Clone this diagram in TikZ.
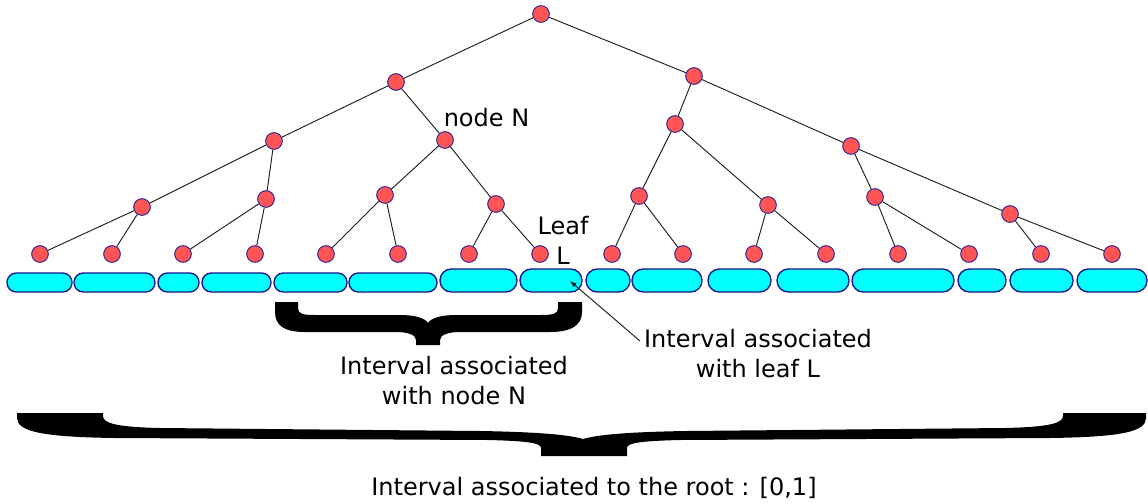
\documentclass[tikz,border=0pt]{standalone}
\usepackage{fontspec}
\setmainfont{DejaVu Sans}
\usepackage{tikz}
\usetikzlibrary{shapes.misc}

\begin{document}
\begin{tikzpicture}[x=0.75pt,y=0.75pt,yscale=-1,xscale=1,
	vtx/.style={circle,minimum size=12.5pt,inner sep=0pt,line width=0.7pt,
		fill={rgb,255:red,255;green,85;blue,85},draw={rgb,255:red,40;green,30;blue,150}},
	seg/.style={line width=1pt,fill={rgb,255:red,0;green,255;blue,255},
		draw={rgb,255:red,25;green,20;blue,140}},
	edge/.style={line width=0.7pt,draw={rgb,255:red,30;green,30;blue,30}},
	lbl/.style={inner sep=0pt,align=center,font=\fontsize{18}{22.5}\selectfont}]
\useasboundingbox (0,0) rectangle (1148,503);

%Shape: Intervals
\draw[seg,rounded corners=7pt] (7,273) rectangle (72,292);
\draw[seg,rounded corners=7pt] (74,273) rectangle (155,292);
\draw[seg,rounded corners=7pt] (158,273) rectangle (199,292);
\draw[seg,rounded corners=7pt] (202,273) rectangle (271,292);
\draw[seg,rounded corners=7pt] (274,273) rectangle (347,292);
\draw[seg,rounded corners=7pt] (349,273) rectangle (437,292);
\draw[seg,rounded corners=8.5pt] (440,269) rectangle (517,292);
\draw[seg,rounded corners=8.5pt] (520,269) rectangle (582,292);
\draw[seg,rounded corners=8.5pt] (586,269) rectangle (630,292);
\draw[seg,rounded corners=8.5pt] (632,269) rectangle (702,292);
\draw[seg,rounded corners=8.5pt] (708,269) rectangle (771,292);
\draw[seg,rounded corners=8.5pt] (777,269) rectangle (849,292);
\draw[seg,rounded corners=8.5pt] (852,269) rectangle (954,292);
\draw[seg,rounded corners=8.5pt] (958,269) rectangle (1006,292);
\draw[seg,rounded corners=8.5pt] (1010,269) rectangle (1073,292);
\draw[seg,rounded corners=8.5pt] (1077,269) rectangle (1147,292);

%Tree nodes
\node[vtx] (r) at (541,14) {};
\node[vtx] (a1) at (396,82) {};
\node[vtx] (a2) at (694,76) {};
\node[vtx] (b1) at (274,141) {};
\node[vtx] (b2) at (445,140) {};
\node[vtx] (b3) at (675,124) {};
\node[vtx] (b4) at (851,146) {};
\node[vtx] (c1) at (142,207) {};
\node[vtx] (c2) at (266,199) {};
\node[vtx] (c3) at (385,195) {};
\node[vtx] (c4) at (496,204) {};
\node[vtx] (c5) at (639,196) {};
\node[vtx] (c6) at (768,205) {};
\node[vtx] (c7) at (875,197) {};
\node[vtx] (c8) at (1010,214) {};
\node[vtx] (l1) at (40,254) {};
\node[vtx] (l2) at (112,254) {};
\node[vtx] (l3) at (183,254) {};
\node[vtx] (l4) at (255,254) {};
\node[vtx] (l5) at (326,254) {};
\node[vtx] (l6) at (398,254) {};
\node[vtx] (l7) at (469,254) {};
\node[vtx] (l8) at (540,254) {};
\node[vtx] (l9) at (612,254) {};
\node[vtx] (l10) at (683,254) {};
\node[vtx] (l11) at (754,254) {};
\node[vtx] (l12) at (826,254) {};
\node[vtx] (l13) at (898,254) {};
\node[vtx] (l14) at (969,254) {};
\node[vtx] (l15) at (1041,254) {};
\node[vtx] (l16) at (1112,254) {};

%Straight Lines
\draw[edge] (r) -- (a1) (r) -- (a2);
\draw[edge] (a1) -- (b1) (a1) -- (b2) (a2) -- (b3) (a2) -- (b4);
\draw[edge] (b1) -- (c1) (b1) -- (c2) (b2) -- (c3) (b2) -- (c4);
\draw[edge] (b3) -- (c5) (b3) -- (c6) (b4) -- (c7) (b4) -- (c8);
\draw[edge] (c1) -- (l1) (c1) -- (l2) (c2) -- (l3) (c2) -- (l4);
\draw[edge] (c3) -- (l5) (c3) -- (l6) (c4) -- (l7) (c4) -- (l8);
\draw[edge] (c5) -- (l9) (c5) -- (l10) (c6) -- (l11) (c6) -- (l12);
\draw[edge] (c7) -- (l13) (c7) -- (l14) (c8) -- (l15) (c8) -- (l16);

%Shape: Brace of node N
\fill (275,302) -- (298,302) -- (298,308) .. controls (298,314) and (303,315) .. (315,315) -- (400,315) .. controls (415,315) and (425,318) .. (428,323) .. controls (431,318) and (441,315) .. (456,315) -- (540,315) .. controls (553,315) and (558,314) .. (558,308) -- (558,302) -- (582,302) -- (582,312) .. controls (582,326) and (570,332) .. (550,332) -- (460,332) .. controls (448,332) and (440,335) .. (440,340) -- (440,345) -- (416,345) -- (416,340) .. controls (416,335) and (408,332) .. (396,332) -- (305,332) .. controls (285,332) and (275,326) .. (275,312) -- cycle;
%Shape: Brace of the root
\fill (17,413) -- (103,413) -- (103,416) .. controls (103,423) and (115,427) .. (160,428) -- (480,431) .. controls (540,432) and (570,435) .. (583,439) .. controls (596,435) and (626,432) .. (686,431) -- (1005,428) .. controls (1050,427) and (1063,423) .. (1063,416) -- (1063,413) -- (1146,413) -- (1146,418) .. controls (1146,432) and (1120,437) .. (1050,438) -- (680,440) .. controls (640,441) and (627,443) .. (627,448) -- (627,456) -- (541,456) -- (541,448) .. controls (541,443) and (528,441) .. (488,440) -- (115,438) .. controls (45,437) and (17,432) .. (17,418) -- cycle;

% Text Node
\node[lbl,anchor=base] (nodeN) at (486.5,126) {node N};
% Text Node
\node[lbl] (leafL) at (563,240) {Leaf\\L};
% Text Node
\node[lbl] (txtN) at (454,381) {Interval associated\\with node N};
% Text Node
\node[lbl] (txtL) at (758,353.5) {Interval associated\\with leaf L};
% Text Node
\node[lbl,anchor=base] (txtR) at (594,495) {Interval associated to the root : [0,1]};

\coordinate (fromL) at (640,341);
\coordinate (tipL) at (570,281);
\draw[edge,-latex] (fromL) -- (tipL);
\end{tikzpicture}
\end{document}
